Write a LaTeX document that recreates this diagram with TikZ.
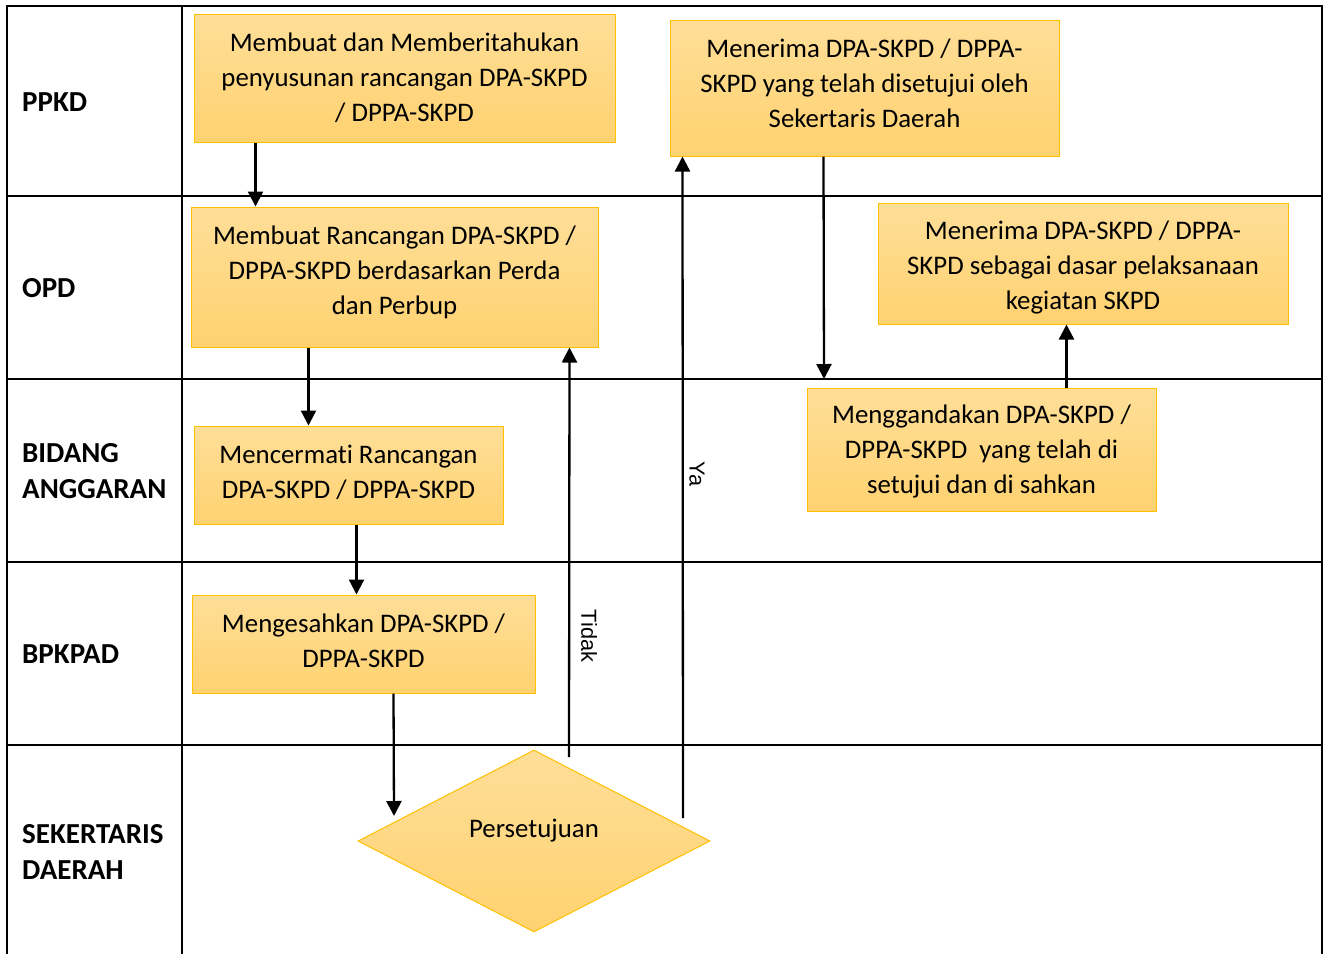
\documentclass[tikz,border=0pt]{standalone}
\usepackage{fontspec}
\setmainfont[Ligatures=NoCommon,Contextuals=NoAlternate]{Carlito}
\newfontfamily\arialf{Liberation Sans}
\usetikzlibrary{shapes.geometric,arrows.meta}
\definecolor{boxline}{RGB}{255,192,0}
\definecolor{boxtop}{RGB}{254,222,152}
\definecolor{boxbot}{RGB}{255,210,112}
\begin{document}
\begin{tikzpicture}[x=1pt,y=-1pt,
  box/.style={draw=boxline, line width=1pt, top color=boxtop, bottom color=boxbot, inner sep=0pt},
  txt/.style={align=center, inner sep=0pt, font=\fontsize{26.8}{35}\selectfont},
  lane/.style={anchor=west, align=left, inner sep=0pt, font=\bfseries\fontsize{29}{36}\selectfont},
  lbl/.style={inner sep=0pt, rotate=-90, font=\arialf\fontsize{21.7}{24}\selectfont},
  arr/.style={-{Triangle[length=15pt,width=15pt]}, line width=2.3pt},
  gridline/.style={line width=2.5pt}]
\useasboundingbox (0,0) rectangle (1323,954);
% table
\draw[gridline] (7,954) -- (7,6) -- (1322,6) -- (1322,954);
\draw[gridline] (182,6) -- (182,954);
\foreach \yy in {196,379,562,745} \draw[gridline] (7,\yy) -- (1322,\yy);
% lane labels
\node[lane] (l1) at (22,102) {PPKD};
\node[lane] (l2) at (22,288) {OPD};
\node[lane] (l3) at (22,471) {BIDANG\\ANGGARAN};
\node[lane] (l4) at (22,654) {BPKPAD};
\node[lane] (l5) at (22,852) {SEKERTARIS\\DAERAH};
% boxes
\node[box, minimum width=421pt, minimum height=128pt] (b1) at (404.5,78) {};
\node[txt] (t1) at (404.5,78) {Membuat dan Memberitahukan\\penyusunan rancangan DPA-SKPD\\/ DPPA-SKPD};
\node[box, minimum width=407pt, minimum height=140pt] (b2) at (394.5,277) {};
\node[txt] (t2) at (394.5,272) {Membuat Rancangan DPA-SKPD /\\DPPA-SKPD berdasarkan Perda\\dan Perbup};
\node[box, minimum width=309pt, minimum height=98pt] (b3) at (348.5,475) {};
\node[txt] (t3) at (348.5,472) {Mencermati Rancangan\\DPA-SKPD / DPPA-SKPD};
\node[box, minimum width=343pt, minimum height=98pt] (b4) at (363.5,644) {};
\node[txt] (t4) at (363.5,641) {Mengesahkan DPA-SKPD /\\DPPA-SKPD};
\node[box, diamond, minimum width=352pt, minimum height=182pt] (d) at (534,841) {};
\node[txt] (td) at (534,831) {Persetujuan};
\node[box, minimum width=389pt, minimum height=136pt] (b6) at (864.5,88) {};
\node[txt] (t6) at (864.5,83) {Menerima DPA-SKPD / DPPA-\\SKPD yang telah disetujui oleh\\Sekertaris Daerah};
\node[box, minimum width=410pt, minimum height=121pt] (b7) at (1083,263.5) {};
\node[txt] (t7) at (1083,267) {Menerima DPA-SKPD / DPPA-\\SKPD sebagai dasar pelaksanaan\\kegiatan SKPD};
\node[box, minimum width=349pt, minimum height=123pt] (b8) at (981.5,449.5) {};
\node[txt] (t8) at (981.5,451) {Menggandakan DPA-SKPD /\\DPPA-SKPD\ \ yang telah di\\setujui dan di sahkan};
% connector ends
\coordinate (c4) at (394,816);
\coordinate (tidS) at (569,757);
\coordinate (yaS) at (683,818);
\coordinate (c6) at (824,379);
% connectors
\draw[arr] ([xshift=62pt]b1.south west) -- ([xshift=65pt]b2.north west);
\draw[arr] ([xshift=118pt]b2.south west) -- ([xshift=115pt]b3.north west);
\draw[arr] ([xshift=163pt]b3.south west) -- ([xshift=165pt]b4.north west);
\draw[arr] ([xshift=202pt]b4.south west) -- (c4);
\draw[arr] (tidS) -- ([xshift=-29pt]b2.south east);
\draw[arr] (yaS) -- ([xshift=13pt]b6.south west);
\draw[arr] ([xshift=154pt]b6.south west) -- (c6);
\draw[arr] ([xshift=260pt]b8.north west) -- ([xshift=189pt]b7.south west);
% labels
\node[lbl] (tidak) at (589,636) {Tidak};
\node[lbl] (ya) at (697,474) {Ya};
\end{tikzpicture}
\end{document}
